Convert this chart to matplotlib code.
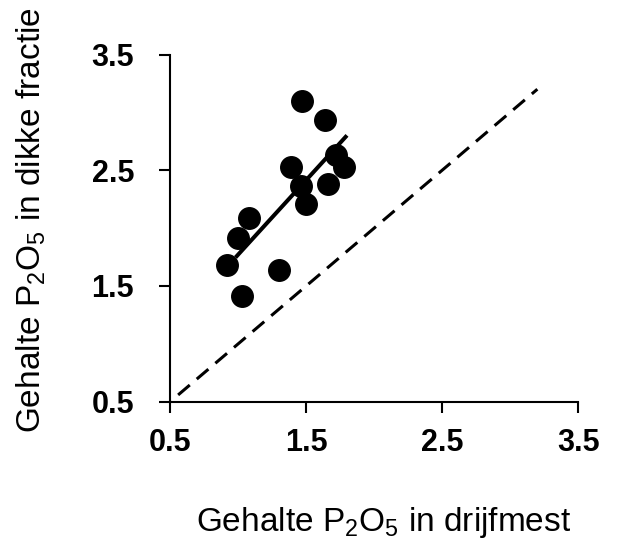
import numpy as np
import matplotlib
matplotlib.use("Agg")
from matplotlib import pyplot as plt

# P2O5 gehalte: drijfmest (x) tegen dikke fractie (y)
drijfmest = [1.47, 1.64, 1.72, 1.78, 1.39, 1.46, 1.66, 1.50, 1.08, 1.00, 0.92, 1.30, 1.03]
dikke_fractie = [3.10, 2.93, 2.63, 2.53, 2.53, 2.36, 2.38, 2.21, 2.09, 1.91, 1.68, 1.64, 1.41]

fit_range = [0.98, 1.80]     # x-range of regression line
diag_range = [0.50, 3.20]    # 1:1 line
ticks = [0.5, 1.5, 2.5, 3.5]

plt.rcParams['font.family'] = ['Liberation Sans', 'DejaVu Sans']
plt.rcParams['mathtext.default'] = 'regular'

fig = plt.figure(figsize=(6.19, 5.45), dpi=100)
ax = fig.add_axes([0.275, 0.263, 0.659, 0.637])

ax.plot(drijfmest, dikke_fractie, 'o', color='black', markersize=15.5, zorder=3)

slope, icpt = np.polyfit(drijfmest, dikke_fractie, 1)
fx = np.array(fit_range)
ax.plot(fx, slope * fx + icpt, color='black', lw=2.9, solid_capstyle='butt', zorder=2)

ax.plot(diag_range, diag_range, color='black', lw=2.2, linestyle=(4.6, (5, 3)),
        clip_on=False)

ax.set_xlim(0.5, 3.5)
ax.set_ylim(0.5, 3.5)
ax.set_xticks(ticks)
ax.set_yticks(ticks)
ax.set_xticklabels([str(t) for t in ticks], fontsize=22, fontweight='bold')
ax.set_yticklabels([str(t) for t in ticks], fontsize=22, fontweight='bold')
ax.tick_params(direction='out', length=8, width=1.5)
ax.tick_params(axis='x', pad=11)
ax.tick_params(axis='y', pad=18)

for s in ['top', 'right']:
    ax.spines[s].set_visible(False)
for s in ['left', 'bottom']:
    ax.spines[s].set_linewidth(1.5)

fig.text(0.620, 0.042, r'Gehalte P$_2$O$_5$ in drijfmest', fontsize=24,
         ha='center', va='center')
fig.text(0.05, 0.596, r'Gehalte P$_2$O$_5$ in dikke fractie', fontsize=24,
         ha='center', va='center', rotation=90)

fig.savefig('out.png', dpi=100)
